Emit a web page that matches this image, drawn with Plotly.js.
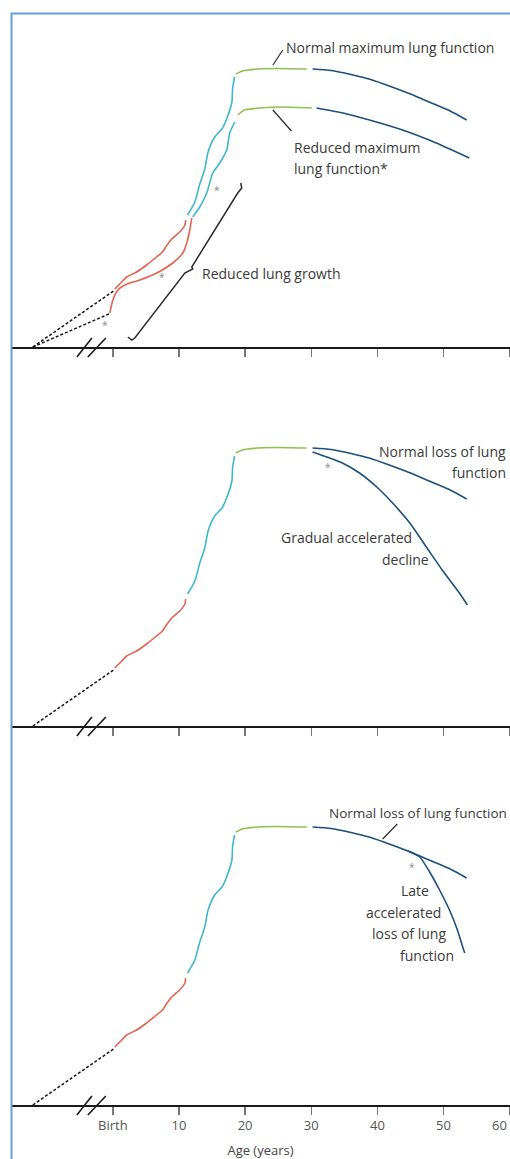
<!DOCTYPE html>
<html>
<head>
<meta charset="utf-8">
<script src="https://cdn.plot.ly/plotly-3.0.1.min.js"></script>
<style>html,body{margin:0;padding:0;background:#fff;}</style>
</head>
<body>
<div id="chart" style="width:510px;height:1159px;"></div>
<script>
// ---------- DATA (age in years, lung function in arbitrary units) ----------
const tickVals   = [0, 10, 20, 30, 40, 50, 60];
const tickLabels = ['Birth', '10', '20', '30', '40', '50', '60'];

// normal trajectory (shared by all three panels)
const normDashAge  = [-12.1, 0.1];
const normDashVal  = [0, 56];
const normRedAge   = [0.3, 1.2, 2.1, 3.6, 5.1, 6.6, 7.5, 8.2, 8.9, 10.1, 10.9, 11.0];
const normRedVal   = [58, 64, 70, 75, 82, 90, 95, 102, 108, 115, 122, 127];
const normCyanAge  = [11.3, 12.4, 13.1, 13.9, 14.4, 15.4, 16.5, 17.2, 18.0, 18.1, 18.4];
const normCyanVal  = [132, 145, 162, 178, 195, 210, 218, 228, 245, 258, 270];
const normGreenAge = [18.6, 19.6, 21.8, 24.8, 29.3];
const normGreenVal = [273, 276, 278, 278.5, 278];
const normBlueAge  = [30.2, 33, 36, 39, 42, 45, 48, 51, 53.5];
const normBlueVal  = [278, 276.5, 272.5, 267.5, 260.5, 253, 244.5, 236, 227];

// panel 1: reduced lung growth / reduced maximum lung function
const redDashAge  = [-12.1, -0.6];
const redDashVal  = [0, 33];
const redRedAge   = [-0.45, 0, 0.76, 1.81, 4.08, 6.65, 9.06, 10.57, 11.18, 11.63, 11.93];
const redRedVal   = [34, 47, 57, 62, 67, 74, 84, 94, 104, 117, 129];
const redCyanAge  = [12.08, 13.14, 14.2, 15.11, 16.16, 17.22, 17.67, 18.43];
const redCyanVal  = [130, 140, 154, 174, 184, 197, 214, 225];
const redGreenAge = [18.9, 19.9, 22.2, 25.7, 30.1];
const redGreenVal = [232, 237, 239, 240, 239];
const redBlueAge  = [30.8, 34.8, 38.8, 43.8, 48.9, 53.9];
const redBlueVal  = [239, 234, 227, 217, 204, 189];

// panel 2: gradual accelerated decline
const gradAge = [30.2, 34.7, 37.3, 39.9, 42.3, 44.9, 47.4, 49.8, 52.4, 53.6];
const gradVal = [274, 263, 253, 239, 223, 203, 179, 156, 133, 121];

// panel 3: late accelerated loss
const lateAge = [44.6, 46.4, 47.9, 49.4, 50.9, 52.1, 52.9, 53.2];
const lateVal = [254, 248, 233, 215, 195, 175, 158, 152];

// curly brace "Reduced lung growth" (panel 1)
const braceAge = [2.27, 2.87, 3.32, 10.88, 12.08, 11.93, 18.88, 19.49, 19.34];
const braceVal = [10, 7, 9, 74, 78, 80, 154, 159, 164];

// leader lines
const leadNormMaxAge = [24.2, 25.7], leadNormMaxVal = [282, 297];
const leadRedMaxAge  = [24.2, 27.0], leadRedMaxVal  = [237, 216];
const leadLossAge    = [40.8, 43.0], leadLossVal    = [266, 281];

// ---------- STYLE / LAYOUT ----------
const C_RED = '#e0644f', C_CYAN = '#3fb6cc', C_GREEN = '#8dc24c', C_BLUE = '#1e4f7c';
const C_DASH = '#151515', C_INK = '#2a2a2a', C_TEXT = '#3a3a3a';
const FONT = 'Open Sans, Liberation Sans, sans-serif';

const W = 510, H = 1159, ML = 11, MT = 13, MB = 54;
const PW = W - ML, PH = H - MT - MB;          // 499 x 1092
const AXIS_Y = [347, 726, 1105];               // pixel y of the three baselines
const PANEL_H = 334;
const X0 = -15.4, X1 = 60.05;
const doms = AXIS_Y.map(a => [(1105 - a) / PH, (1105 - a + PANEL_H) / PH]);

const traces = [];
function curve(p, xs, ys, color, dash, width) {
  const s = p === 0 ? '' : String(p + 1);
  traces.push({
    type: 'scatter', mode: 'lines', x: xs, y: ys,
    xaxis: 'x' + s, yaxis: 'y' + s,
    line: {color: color, width: width || 1.6, dash: dash || 'solid', shape: 'spline', smoothing: 0.6},
    hoverinfo: 'skip', showlegend: false
  });
}
function normal(p) {
  curve(p, normDashAge, normDashVal, C_DASH, '3px,2px', 1.5);
  curve(p, normRedAge, normRedVal, C_RED);
  curve(p, normCyanAge, normCyanVal, C_CYAN);
  curve(p, normGreenAge, normGreenVal, C_GREEN);
  curve(p, normBlueAge, normBlueVal, C_BLUE);
}
// panel 1
normal(0);
curve(0, redDashAge, redDashVal, C_DASH, '3px,2px', 1.5);
curve(0, redRedAge, redRedVal, C_RED);
curve(0, redCyanAge, redCyanVal, C_CYAN);
curve(0, redGreenAge, redGreenVal, C_GREEN);
curve(0, redBlueAge, redBlueVal, C_BLUE);
traces.push({type:'scatter', mode:'lines', x: braceAge, y: braceVal, xaxis:'x', yaxis:'y',
  line:{color:C_INK, width:1.5}, hoverinfo:'skip', showlegend:false});
curve(0, leadNormMaxAge, leadNormMaxVal, C_INK, 'solid', 1.2);
curve(0, leadRedMaxAge, leadRedMaxVal, C_INK, 'solid', 1.2);
// panel 2
normal(1);
curve(1, gradAge, gradVal, C_BLUE);
// panel 3
normal(2);
curve(2, lateAge, lateVal, C_BLUE);
curve(2, leadLossAge, leadLossVal, C_INK, 'solid', 1.2);

// the last tick label sits on the right edge: drawn as an annotation so it stays whole
const axisTickText = tickLabels.slice(0, -1).concat(['']);
const lastTickLabel = tickLabels[tickLabels.length - 1];

function xax(p) {
  return {
    domain: [0, 1], range: [X0, X1], anchor: 'y' + (p === 0 ? '' : p + 1),
    showgrid: false, zeroline: false, fixedrange: true,
    showline: true, linecolor: '#1a1a1a', linewidth: 1.6,
    ticks: 'outside', ticklen: 8, tickwidth: 1.5, tickcolor: '#777',
    tickmode: 'array', tickvals: tickVals, ticktext: axisTickText,
    showticklabels: p === 2, ticklabeloverflow: 'allow',
    tickfont: {family: FONT, size: 13, color: '#555'}
  };
}
function yax(p) {
  return {
    domain: doms[p], range: [0, PANEL_H], anchor: 'x' + (p === 0 ? '' : p + 1),
    visible: false, fixedrange: true
  };
}

const px2x = px => (px - ML) / PW;
const py2y = py => (1105 - py) / PH;
function ann(text, px, py, xa, size, color) {
  return {xref: 'paper', yref: 'paper', x: px2x(px), y: py2y(py), xanchor: xa || 'left', yanchor: 'middle',
    text: text, showarrow: false,
    font: {family: FONT, size: size || 14, color: color || C_TEXT}};
}
const annotations = [
  ann('Normal maximum lung function', 284, 47),
  ann('Reduced maximum', 292, 147),
  ann('lung function*', 292, 168),
  ann('Reduced lung growth', 200, 273),
  ann('Normal loss of lung', 508, 451, 'right'),
  ann('function', 508, 473, 'right'),
  ann('Gradual accelerated', 346, 537, 'center'),
  ann('decline', 405, 559, 'center'),
  ann('Normal loss of lung function', 327, 813, 'left', 13.5),
  ann('Late', 415, 890, 'center'),
  ann('accelerated', 403, 912, 'center'),
  ann('loss of lung', 409, 933, 'center'),
  ann('function', 427, 955, 'center'),
  ann('*', 105, 325, 'center', 10, '#888'),
  ann('*', 162, 277, 'center', 10, '#888'),
  ann('*', 217, 190, 'center', 10, '#888'),
  ann('*', 328, 467, 'center', 10, '#888'),
  ann('*', 412, 867, 'center', 10, '#888'),
  ann(lastTickLabel, 509, 1125, 'right', 13, '#555')
];

// axis break marks "//" and the blue frame
const shapes = [];
const ageX = a => (a - X0) / (X1 - X0);
AXIS_Y.forEach(a => {
  [[-5.44, -3.17], [-3.78, -1.06]].forEach(s => {
    shapes.push({type: 'line', xref: 'paper', yref: 'paper',
      x0: ageX(s[0]), y0: py2y(a + 10), x1: ageX(s[1]), y1: py2y(a - 9),
      line: {color: '#1a1a1a', width: 1.6}});
  });
});
shapes.push({type: 'rect', xref: 'paper', yref: 'paper',
  x0: px2x(11.5), y0: -0.2, x1: 1.2, y1: py2y(13.5),
  line: {color: '#64a0dc', width: 2}, fillcolor: 'rgba(0,0,0,0)'});

const layout = {
  width: W, height: H,
  margin: {l: ML, r: 0, t: MT, b: MB, pad: 0},
  paper_bgcolor: '#fff', plot_bgcolor: 'rgba(0,0,0,0)',
  showlegend: false, hovermode: false,
  font: {family: FONT, color: C_TEXT},
  xaxis: xax(0), xaxis2: xax(1), xaxis3: Object.assign(xax(2), {
    title: {text: 'Age (years)', font: {family: FONT, size: 13, color: '#444'}, standoff: 12}
  }),
  yaxis: yax(0), yaxis2: yax(1), yaxis3: yax(2),
  annotations: annotations, shapes: shapes
};

Plotly.newPlot('chart', traces, layout, {staticPlot: true, displayModeBar: false});
</script>
</body>
</html>
